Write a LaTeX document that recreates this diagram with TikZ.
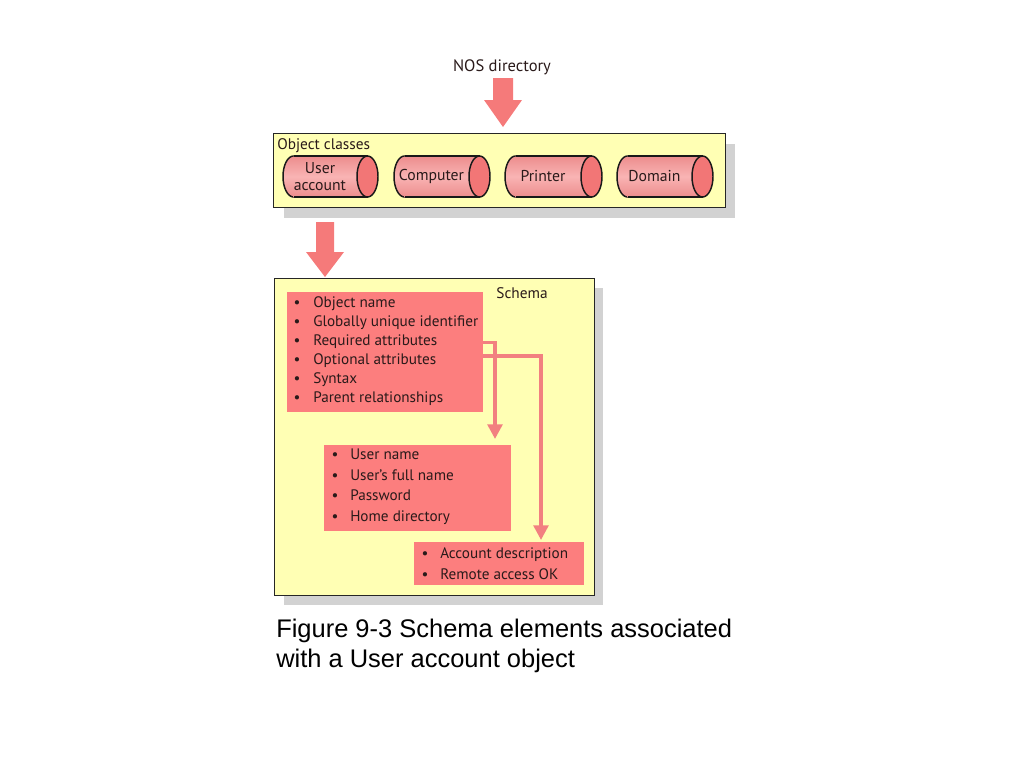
\documentclass[tikz,border=0pt]{standalone}
\usepackage{fontspec}
\setmainfont{PT Sans}
\newfontfamily\capfont{Liberation Sans}
\usetikzlibrary{arrows.meta}
\definecolor{panelyellow}{HTML}{FFFFB4}
\definecolor{shadowgrey}{HTML}{D2D2D2}
\definecolor{boxred}{HTML}{FC7E7E}
\definecolor{arrowred}{HTML}{F57A7A}
\definecolor{linkred}{HTML}{F28080}
\definecolor{cylmid}{HTML}{F9B4B4}
\definecolor{cyledge}{HTML}{EC8C8C}
\definecolor{cylend}{HTML}{F27676}
\definecolor{inktext}{HTML}{2A1A1A}
\newcommand\mycyl[4]{%
  \pgfmathsetmacro\cxl{#2+10.5}%
  \pgfmathsetmacro\cxr{#3-10.5}%
  \pgfmathsetmacro\cxm{(#2+#3-21)/2}%
  \shadedraw[cylbody] (\cxl,176.5) ellipse[x radius=10.5, y radius=20.5];
  \shade[cylbody,draw=none] (\cxl,156) rectangle (\cxr,197);
  \draw[cylline] (\cxl,156) -- (\cxr,156) (\cxl,197) -- (\cxr,197);
  \filldraw[cylline,fill=cylend] (\cxr,176.5) ellipse[x radius=10.5, y radius=20.5];
  \node[cyltext] (#1) at (\cxm,176.5) {#4};
}
\begin{document}
\begin{tikzpicture}[x=0.75pt,y=-0.75pt,
  panel/.style={fill=panelyellow,draw=black!85,line width=0.8pt},
  shadowbox/.style={fill=shadowgrey,draw=none},
  redbox/.style={fill=boxred,draw=none},
  blockarrow/.style={fill=arrowred,draw=none},
  cylbody/.style={top color=cyledge,bottom color=cyledge,middle color=cylmid,draw=black!90,line width=1.1pt},
  cylline/.style={draw=black!90,line width=1.1pt},
  cyltext/.style={align=center,inner sep=0pt,text=inktext,font=\fontsize{11.8}{13}\selectfont},
  lbl/.style={inner sep=0pt,text=inktext,font=\fontsize{11.5}{13}\selectfont},
  item/.style={anchor=base west,inner sep=0pt,text=inktext,font=\fontsize{11.4}{13}\selectfont},
  bul/.style={anchor=base,inner sep=0pt,text=inktext,font=\fontsize{11.4}{13}\selectfont},
  link/.style={draw=linkred,line width=2.6pt,-{Triangle[length=11pt,width=11pt]}},
  caption/.style={anchor=base west,inner sep=0pt,font=\capfont\fontsize{19.1}{23}\selectfont}
]
\useasboundingbox (0,0) rectangle (1024,768);

% NOS directory and first block arrow
\node[lbl,anchor=base,font=\fontsize{12.4}{14}\selectfont] (nos) at (502,71) {NOS directory};
\fill[blockarrow] (493,78) -- (513,78) -- (513,100) -- (522,100) -- (503,127) -- (484,100) -- (493,100) -- cycle;

% Object classes panel
\fill[shadowbox] (284,144) rectangle (735,218);
\node[panel,anchor=north west,minimum width=452*0.75pt,minimum height=74*0.75pt,inner sep=0pt] (classes) at (273,133) {};
\node[lbl,anchor=base west] (classlbl) at (277,149) {Object classes};

\mycyl{user}{283}{378}{User\\account}
\mycyl{computer}{394}{490}{Computer}
\mycyl{printer}{505}{602}{Printer}
\mycyl{domain}{617}{713}{Domain}

% second block arrow
\fill[blockarrow] (316,222) -- (334,222) -- (334,252) -- (344,252) -- (325,277) -- (306,252) -- (316,252) -- cycle;

% Schema panel
\fill[shadowbox] (284,288) rectangle (603,605);
\node[panel,anchor=north west,minimum width=320*0.75pt,minimum height=317*0.75pt,inner sep=0pt] (schema) at (274,278) {};
\node[lbl,anchor=base] (schemalbl) at (522,298) {Schema};

% first list
\node[redbox,anchor=north west,minimum width=196*0.75pt,minimum height=120*0.75pt,inner sep=0pt] (attrs) at (287,292) {};
\foreach \t [count=\i] in {Object name,Globally unique identifier,Required attributes,Optional attributes,Syntax,Parent relationships}{
  \pgfmathsetmacro\yy{307+19*(\i-1)}
  \node[bul] (ab\i) at (297,\yy) {\textbullet};
  \node[item] (at\i) at (313,\yy) {\t};
}

% second list
\node[redbox,anchor=north west,minimum width=187*0.75pt,minimum height=86*0.75pt,inner sep=0pt] (req) at (324,445) {};
\foreach \t [count=\i] in {User name,User’s full name,Password,Home directory}{
  \pgfmathsetmacro\yy{459.5+20.7*(\i-1)}
  \node[bul] (rb\i) at (335,\yy) {\textbullet};
  \node[item] (rt\i) at (350,\yy) {\t};
}

% third list
\node[redbox,anchor=north west,minimum width=170*0.75pt,minimum height=43*0.75pt,inner sep=0pt] (opt) at (414,542) {};
\foreach \t [count=\i] in {Account description,Remote access OK}{
  \pgfmathsetmacro\yy{558.5+21*(\i-1)}
  \node[bul] (ob\i) at (425,\yy) {\textbullet};
  \node[item] (ot\i) at (440,\yy) {\t};
}

% connectors
\coordinate (r1) at (483,342.5);
\coordinate (r1c) at (495,342.5);
\coordinate (r1e) at (495,439);
\coordinate (r2) at (483,356);
\coordinate (r2c) at (541,356);
\coordinate (r2e) at (541,540);
\draw[link] (r1) -- (r1c) -- (r1e);
\draw[link] (r2) -- (r2c) -- (r2e);

% caption
\node[caption] (cap1) at (276,637) {Figure 9-3 Schema elements associated};
\node[caption] (cap2) at (276,667) {with a User account object};
\end{tikzpicture}
\end{document}
